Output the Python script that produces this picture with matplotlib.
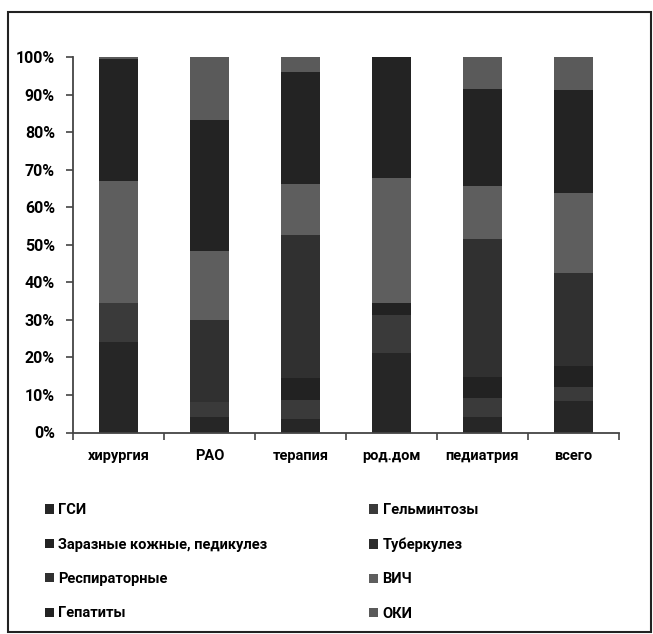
import numpy as np
import matplotlib.pyplot as plt
from matplotlib.patches import Rectangle

plt.rcParams['font.family'] = ['Roboto', 'DejaVu Sans']
plt.rcParams['font.weight'] = 'bold'

# отделения
otdel = ['хирургия', 'РАО', 'терапия', 'род.дом', 'педиатрия', 'всего']

# доли инфекций по отделениям, %
gsi = [24.2, 4.2, 3.6, 21.1, 4.0, 8.5]
gelm = [10.4, 4.0, 5.1, 10.2, 5.1, 3.7]
kozh = [0.0, 0.0, 5.8, 3.3, 5.8, 5.4]
tub = [0.0, 0.0, 0.0, 0.0, 0.0, 0.0]
resp = [0.0, 21.8, 38.0, 0.0, 36.6, 25.0]
vich = [32.3, 18.4, 13.8, 33.2, 14.1, 21.3]
gep = [32.6, 34.9, 29.7, 32.2, 25.9, 27.4]
oki = [0.5, 16.7, 4.0, 0.0, 8.5, 8.7]

names = ['ГСИ', 'Гельминтозы', 'Заразные кожные, педикулез', 'Туберкулез',
         'Респираторные', 'ВИЧ', 'Гепатиты', 'ОКИ']
series = [gsi, gelm, kozh, tub, resp, vich, gep, oki]
colors = ['#262626', '#3a3a3a', '#222222', '#2c2c2c',
          '#303030', '#5e5e5e', '#232323', '#5a5a5a']

fig = plt.figure(figsize=(6.53, 6.34), dpi=100)
ax = fig.add_axes([73/653, 201.5/634, 546/653, 375.5/634])

x = np.arange(len(otdel))
bottom = np.zeros(len(otdel))
bars = []
for vals, nm, c in zip(series, names, colors):
    v = np.array(vals) / 100
    b = ax.bar(x, v, 0.42, bottom=bottom, color=c, label=nm, linewidth=0)
    bars.append(b)
    bottom += v

ax.set_xlim(-0.5, len(otdel) - 0.5)
ax.set_ylim(0, 1)
ax.set_yticks(np.arange(0, 1.01, 0.1))
ax.set_yticklabels(['%d%%' % (i * 10) for i in range(11)], fontsize=11.5, fontweight='bold')
ax.set_xticks(x)
ax.set_xticklabels(otdel, fontsize=10.5, fontweight='bold')
ax.set_xticks(np.arange(-0.5, len(otdel)), minor=True)
ax.tick_params(axis='x', which='major', length=0, pad=12)
ax.tick_params(axis='x', which='minor', length=5, width=1.2, color='#444444')
ax.tick_params(axis='y', length=5, width=1.2, color='#444444', pad=8)
for s in ['top', 'right']:
    ax.spines[s].set_visible(False)
for s in ['left', 'bottom']:
    ax.spines[s].set_color('#444444')
    ax.spines[s].set_linewidth(1.3)

# легенда в две колонки, как в строках: ГСИ | Гельминтозы ...
order = [0, 2, 4, 6, 1, 3, 5, 7]
leg = fig.legend([bars[i] for i in order], [names[i] for i in order],
                 ncol=2, loc='upper left', bbox_to_anchor=(32/653, 1 - 490/634),
                 frameon=False, handlelength=0.6, handleheight=0.6, handletextpad=0.3,
                 labelspacing=1.4, columnspacing=7.0,
                 prop={'size': 10.5, 'weight': 'bold'})

# рамка диаграммы
fig.patches.append(Rectangle((8/653, 2/634), 643/653, 620/634, transform=fig.transFigure,
                             fill=False, edgecolor='#222222', linewidth=1.5))

fig.savefig('out.png', dpi=100)
